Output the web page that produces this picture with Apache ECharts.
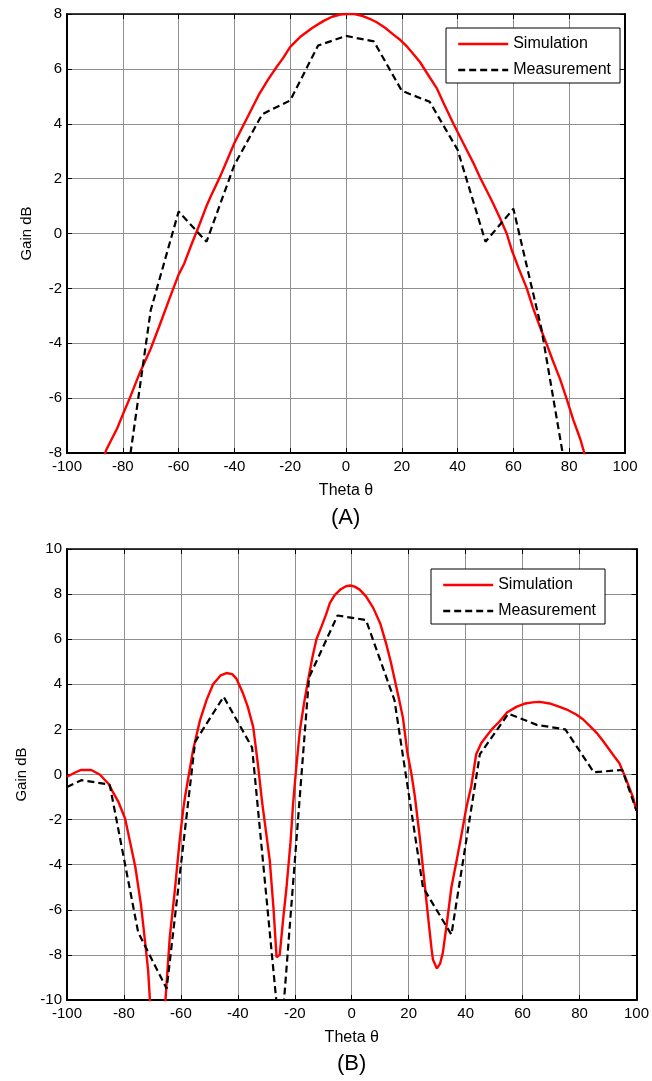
<!DOCTYPE html>
<html>
<head>
<meta charset="utf-8">
<script src="https://cdn.jsdelivr.net/npm/echarts@6/dist/echarts.min.js"></script>
<style>
html,body{margin:0;padding:0;background:#fff;}
#chart{width:652px;height:1081px;}
</style>
</head>
<body>
<div id="chart"></div>
<script>
// ---- Data ----
var xTicks = [-100, -80, -60, -40, -20, 0, 20, 40, 60, 80, 100];
var yTicksA = [-8, -6, -4, -2, 0, 2, 4, 6, 8];
var yTicksB = [-10, -8, -6, -4, -2, 0, 2, 4, 6, 8, 10];

// (A) Simulation
var simA_theta = [-87, -86, -82, -80, -77.5, -74, -70, -67, -63, -60, -58, -55, -53, -50, -48.5, -45, -42.5, -40, -36, -34, -31, -28, -25, -22.5, -20, -16, -12, -8, -5, -2, 0, 3, 6, 9, 11, 14, 17, 19.5, 22, 24.5, 26.5, 29, 32.5, 35, 38.5, 41, 43.5, 46, 48, 50.5, 52.7, 55, 57.6, 59.4, 62, 64.8, 67, 69.5, 72, 74, 76.7, 79, 81.5, 84, 85.4, 86];
var simA_gain  = [-8.3, -7.9, -7.1, -6.6, -6.0, -5.1, -4.2, -3.4, -2.3, -1.5, -1.1, -0.3, 0.2, 1.0, 1.35, 2.1, 2.7, 3.3, 4.1, 4.5, 5.1, 5.6, 6.05, 6.4, 6.8, 7.2, 7.5, 7.75, 7.9, 7.98, 8.0, 8.0, 7.92, 7.8, 7.7, 7.5, 7.25, 7.05, 6.8, 6.5, 6.25, 5.85, 5.3, 4.75, 4.0, 3.5, 3.0, 2.5, 2.05, 1.55, 1.1, 0.6, 0.0, -0.6, -1.3, -2.0, -2.7, -3.4, -4.05, -4.6, -5.3, -6.0, -6.8, -7.5, -8.0, -8.3];
// (A) Measurement
var measA_theta = [-80, -70, -60, -50, -40, -30, -20, -10, 0, 10, 20, 30, 40, 50, 60, 70, 80];
var measA_gain  = [-10, -2.8, 0.8, -0.3, 2.5, 4.35, 4.85, 6.85, 7.2, 7.0, 5.2, 4.8, 3.05, -0.3, 0.9, -3.45, -9.4];

// (B) Simulation
var simB_theta = [-100, -97, -95, -91.5, -88.5, -85.5, -84, -82, -79.6, -78, -76, -74, -72.5, -71.5, -70.5, -68, -65.8, -63.9, -62.1, -60.5, -59.2, -58.5, -55.7, -53.3, -51, -48.7, -46, -44, -42, -40.5, -38.2, -36.5, -34.6, -33, -31.5, -28.8, -27.5, -26.4, -25.3, -24, -22.9, -21.5, -20.6, -19.5, -18.2, -16.7, -15.3, -13.8, -12.4, -10.5, -9, -7.7, -6, -4, -2, -0.5, 1, 2.8, 5, 7.5, 10, 12.2, 13.7, 15.1, 16.5, 18, 19.5, 21, 22.2, 23.9, 25.3, 26.8, 28, 28.5, 29.9, 31, 32, 33.5, 35, 36.7, 38.5, 40.2, 42, 43.7, 45.5, 47.3, 49.5, 51.9, 54.5, 57.8, 61, 63.5, 66, 69.5, 73, 76, 79, 81.2, 84, 86, 88.2, 90.5, 92.5, 94, 96, 98.7, 100];
var simB_gain  = [-0.1, 0.1, 0.2, 0.2, 0.0, -0.4, -0.75, -1.2, -1.95, -2.9, -4.1, -5.8, -7.5, -8.7, -10.8, -14, -10.7, -7.2, -5.1, -3.0, -1.57, -0.95, 1.1, 2.4, 3.3, 4.0, 4.4, 4.5, 4.45, 4.25, 3.6, 3.0, 2.1, 0.5, -1.2, -3.8, -5.9, -8.1, -8.0, -6.3, -5.0, -3.0, -1.3, 0.3, 1.97, 3.2, 4.2, 5.2, 6.0, 6.6, 7.1, 7.6, 7.95, 8.2, 8.35, 8.38, 8.33, 8.2, 7.9, 7.4, 6.7, 5.75, 5.0, 4.2, 3.4, 2.5, 1.0, 0.0, -1.0, -2.8, -4.5, -6.3, -7.7, -8.2, -8.6, -8.4, -7.9, -6.5, -5.0, -3.9, -2.7, -1.5, -0.5, 0.9, 1.4, 1.7, 2.05, 2.35, 2.75, 3.0, 3.15, 3.2, 3.22, 3.15, 3.0, 2.85, 2.65, 2.45, 2.1, 1.85, 1.5, 1.1, 0.75, 0.5, -0.1, -0.98, -1.6];
// (B) Measurement
var measB_theta = [-100, -95, -85, -75, -65, -55, -45, -35, -25, -15, -5, 5, 15, 25, 35, 45, 55, 65, 75, 85, 95, 100];
var measB_gain  = [-0.55, -0.25, -0.45, -7.0, -9.5, 1.45, 3.45, 1.2, -12, 4.3, 7.05, 6.85, 3.3, -5.0, -7.1, 0.9, 2.7, 2.2, 2.0, 0.1, 0.2, -1.6];

function zip(a, b) { return a.map(function (v, i) { return [v, b[i]]; }); }

var FONT = 'Liberation Sans, Arial, sans-serif';
var chart = echarts.init(document.getElementById('chart'), null, {renderer: 'canvas'});

function xAxes(grid, withName) {
  return [
    {
      gridIndex: grid, type: 'value', position: 'bottom',
      min: xTicks[0], max: xTicks[xTicks.length - 1], interval: 20,
      axisLine: {show: true, onZero: false, lineStyle: {color: '#000', width: 2}},
      axisTick: {show: true, inside: true, length: 5, lineStyle: {color: '#000', width: 1}},
      axisLabel: {color: '#000', fontSize: 15, fontFamily: FONT, margin: 6},
      splitLine: {show: true, lineStyle: {color: '#8f8f8f', width: 1}},
      name: withName, nameLocation: 'middle', nameGap: 30,
      nameTextStyle: {color: '#000', fontSize: 16, fontFamily: FONT}
    },
    {
      gridIndex: grid, type: 'value', position: 'top',
      min: xTicks[0], max: xTicks[xTicks.length - 1], interval: 20,
      axisLine: {show: true, onZero: false, lineStyle: {color: '#000', width: 1.5}},
      axisTick: {show: true, inside: true, length: 5, lineStyle: {color: '#000', width: 1}},
      axisLabel: {show: false}, splitLine: {show: false}
    }
  ];
}
function yAxes(grid, ticks) {
  return [
    {
      gridIndex: grid, type: 'value', position: 'left',
      min: ticks[0], max: ticks[ticks.length - 1], interval: 2,
      axisLine: {show: true, onZero: false, lineStyle: {color: '#000', width: 2}},
      axisTick: {show: true, inside: true, length: 5, lineStyle: {color: '#000', width: 1}},
      axisLabel: {color: '#000', fontSize: 15, fontFamily: FONT, margin: 5},
      splitLine: {show: true, lineStyle: {color: '#8f8f8f', width: 1}},
      name: 'Gain dB', nameLocation: 'middle', nameGap: 33, nameRotate: 90,
      nameTextStyle: {color: '#000', fontSize: 15, fontFamily: FONT}
    },
    {
      gridIndex: grid, type: 'value', position: 'right',
      min: ticks[0], max: ticks[ticks.length - 1], interval: 2,
      axisLine: {show: true, onZero: false, lineStyle: {color: '#000', width: 2}},
      axisTick: {show: true, inside: true, length: 5, lineStyle: {color: '#000', width: 1}},
      axisLabel: {show: false}, splitLine: {show: false}
    }
  ];
}

function simSeries(xi, yi, data) {
  return {
    name: 'Simulation', type: 'line', xAxisIndex: xi, yAxisIndex: yi,
    data: data, symbol: 'none', showSymbol: false, clip: true, z: 3,
    lineStyle: {color: '#ff0000', width: 2.4}, itemStyle: {color: '#ff0000'}
  };
}
function measSeries(xi, yi, data) {
  return {
    name: 'Measurement', type: 'line', xAxisIndex: xi, yAxisIndex: yi,
    data: data, symbol: 'none', showSymbol: false, clip: true, z: 4,
    lineStyle: {color: '#000', width: 2.2, type: [7, 4]}, itemStyle: {color: '#000'}
  };
}

var legendBase = {
  orient: 'vertical', backgroundColor: '#fff', borderColor: '#000', borderWidth: 1,
  borderRadius: 0, itemWidth: 50, itemHeight: 14, itemGap: 10,
  itemStyle: {opacity: 0},
  lineStyle: {width: 2.4},
  textStyle: {color: '#000', fontSize: 16, fontFamily: FONT},
  data: ['Simulation', 'Measurement'], selectedMode: false
};

var option = {
  animation: false,
  backgroundColor: '#fff',
  grid: [
    {left: 67, top: 14, width: 558, height: 439},
    {left: 67, top: 549, width: 570, height: 451}
  ],
  xAxis: xAxes(0, 'Theta θ').concat(xAxes(1, 'Theta θ')),
  yAxis: yAxes(0, yTicksA).concat(yAxes(1, yTicksB)),
  legend: [
    Object.assign({}, legendBase, {left: 446, top: 28, padding: [8, 9, 5, 11]}),
    Object.assign({}, legendBase, {left: 431, top: 569, padding: [8, 9, 5, 11]})
  ],
  series: [
    simSeries(0, 0, zip(simA_theta, simA_gain)),
    measSeries(0, 0, zip(measA_theta, measA_gain)),
    simSeries(2, 2, zip(simB_theta, simB_gain)),
    measSeries(2, 2, zip(measB_theta, measB_gain))
  ],
  graphic: [
    {type: 'text', left: 346 - 15, top: 507, style: {text: '(A)', fontSize: 22, fontFamily: FONT, fill: '#000'}},
    {type: 'text', left: 352 - 15, top: 1053, style: {text: '(B)', fontSize: 22, fontFamily: FONT, fill: '#000'}}
  ]
};
chart.setOption(option);
</script>
</body>
</html>
